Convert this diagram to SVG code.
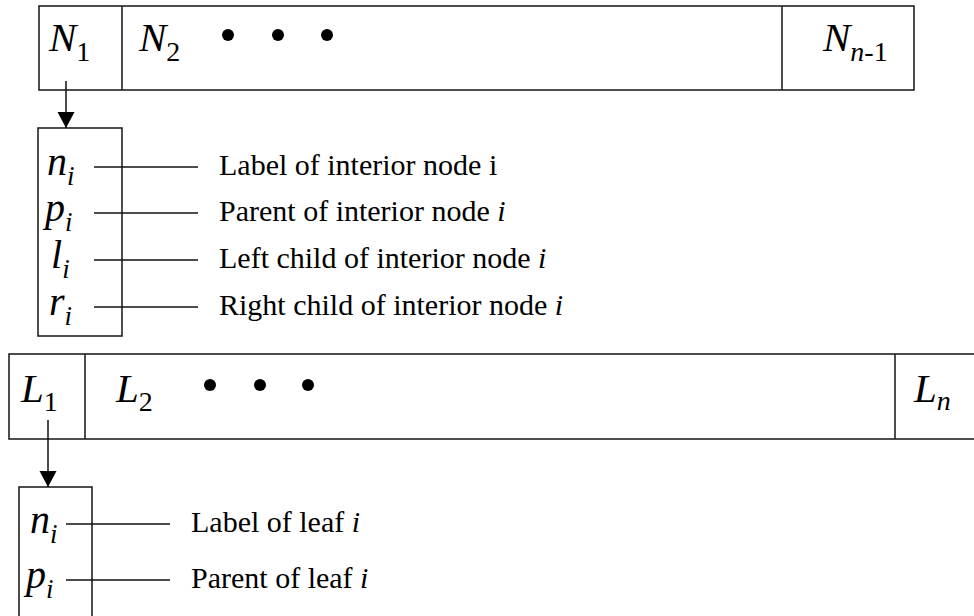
<svg xmlns="http://www.w3.org/2000/svg" width="974" height="616" viewBox="0 0 974 616">
<defs>
<style>
.box{fill:none;stroke:#222;stroke-width:1.6}
.ln{stroke:#111;stroke-width:1.5;fill:none}
.big{font-family:"Liberation Serif","Times New Roman",serif;font-style:italic;font-size:41px;fill:#000}
.sub{font-size:28px}
.rm{font-style:normal}
.var{font-family:"Liberation Serif","Times New Roman",serif;font-style:italic;font-size:40px;fill:#000}
.vsub{font-size:27px}
.lbl{font-family:"Liberation Serif","Times New Roman",serif;font-size:30px;fill:#000}
.it{font-style:italic}
.dot{fill:#000}
</style>
<marker id="ah" markerUnits="userSpaceOnUse" markerWidth="18" markerHeight="18" refX="16" refY="8.5" orient="auto">
<path d="M0,0 L16,8.5 L0,17 Z" fill="#000"/>
</marker>
</defs>

<g id="interior-array">
<rect class="box" x="39" y="6" width="875" height="84"/>
<line class="box" x1="122" y1="6" x2="122" y2="90"/>
<line class="box" x1="782" y1="6" x2="782" y2="90"/>
<text class="big" x="49" y="51">N<tspan class="sub rm" dy="10">1</tspan></text>
<text class="big" x="139" y="51">N<tspan class="sub rm" dy="10">2</tspan></text>
<circle class="dot" cx="228" cy="35" r="6"/>
<circle class="dot" cx="278" cy="35" r="6"/>
<circle class="dot" cx="327" cy="35" r="6"/>
<text class="big" x="823" y="51">N<tspan class="sub" dy="10">n</tspan><tspan class="sub rm">-1</tspan></text>
</g>

<g id="interior-record">
<rect class="box" x="38" y="128" width="84" height="208"/>
<text class="var" x="47" y="175">n<tspan class="vsub" dy="10">i</tspan></text>
<text class="var" x="45" y="221">p<tspan class="vsub" dy="10">i</tspan></text>
<text class="var" x="51" y="268">l<tspan class="vsub" dy="10">i</tspan></text>
<text class="var" x="49" y="315">r<tspan class="vsub" dy="10">i</tspan></text>
<text class="lbl" x="219" y="175">Label of interior node i</text>
<text class="lbl" x="219" y="221">Parent of interior node <tspan class="it">i</tspan></text>
<text class="lbl" x="219" y="268">Left child of interior node <tspan class="it">i</tspan></text>
<text class="lbl" x="219" y="315">Right child of interior node <tspan class="it">i</tspan></text>
</g>

<g id="leaf-array">
<rect class="box" x="9" y="354" width="980" height="85"/>
<line class="box" x1="85" y1="354" x2="85" y2="439"/>
<line class="box" x1="895" y1="354" x2="895" y2="439"/>
<text class="big" x="21" y="402">L<tspan class="sub rm" dy="9">1</tspan></text>
<text class="big" x="116" y="402">L<tspan class="sub rm" dy="9">2</tspan></text>
<circle class="dot" cx="210" cy="385" r="6"/>
<circle class="dot" cx="260" cy="385" r="6"/>
<circle class="dot" cx="308" cy="385" r="6"/>
<text class="big" x="914" y="402">L<tspan class="sub" dy="8">n</tspan></text>
</g>

<g id="leaf-record">
<rect class="box" x="19" y="487" width="73" height="150"/>
<text class="var" x="30" y="533">n<tspan class="vsub" dy="10">i</tspan></text>
<text class="var" x="26" y="588">p<tspan class="vsub" dy="10">i</tspan></text>
<text class="lbl" x="191" y="532">Label of leaf <tspan class="it">i</tspan></text>
<text class="lbl" x="191" y="588">Parent of leaf <tspan class="it">i</tspan></text>
</g>

<g id="connectors">
<line class="ln" x1="66" y1="81" x2="66" y2="128" marker-end="url(#ah)"/>
<line class="ln" x1="48" y1="420" x2="48" y2="487" marker-end="url(#ah)"/>
<line class="ln" x1="94" y1="167" x2="198" y2="167"/>
<line class="ln" x1="94" y1="213" x2="198" y2="213"/>
<line class="ln" x1="94" y1="260" x2="198" y2="260"/>
<line class="ln" x1="94" y1="307" x2="198" y2="307"/>
<line class="ln" x1="66" y1="524" x2="170" y2="524"/>
<line class="ln" x1="66" y1="580" x2="170" y2="580"/>
</g>
</svg>
